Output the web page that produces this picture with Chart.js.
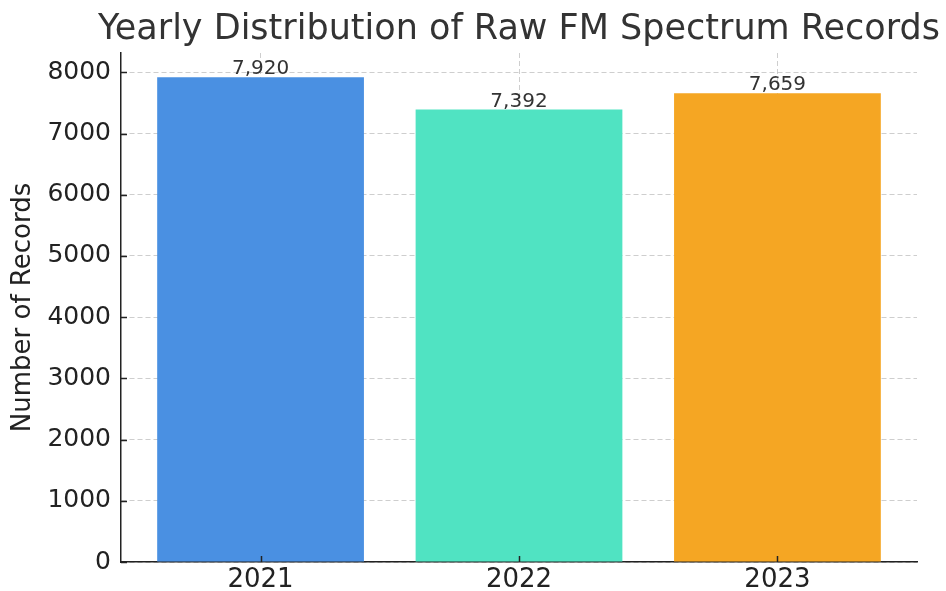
<!DOCTYPE html>
<html>
<head>
<meta charset="utf-8">
<script src="https://cdn.jsdelivr.net/npm/chart.js@4/dist/chart.umd.min.js"></script>
<style>
  html, body { margin: 0; padding: 0; background: #fff; }
  #wrap { width: 946px; height: 591px; }
</style>
</head>
<body>
<div id="wrap"><canvas id="recordsChart" width="946" height="591"></canvas></div>
<script>
const years = ["2021", "2022", "2023"];
const records = [7920, 7392, 7659];
const barColors = ["#4A90E2", "#50E3C2", "#F5A623"];
const yTicks = [0, 1000, 2000, 3000, 4000, 5000, 6000, 7000, 8000];
const chartTitle = "Yearly Distribution of Raw FM Spectrum Records";

const font = "'DejaVu Sans', sans-serif";
const gridColor = "rgba(180,180,180,0.65)";

// value labels above each bar
const barLabels = {
  id: "barLabels",
  afterDatasetsDraw(chart) {
    const ctx = chart.ctx;
    const meta = chart.getDatasetMeta(0);
    ctx.save();
    ctx.font = "20px " + font;
    ctx.fillStyle = "#333";
    ctx.textAlign = "center";
    ctx.textBaseline = "alphabetic";
    meta.data.forEach((bar, i) => {
      ctx.fillText(records[i].toLocaleString("en-US"), bar.x, bar.y - 3);
    });
    ctx.restore();
  }
};

// title centred over the plot area, allowed to run past it like the original
// plus the short inward tick marks on both axes
const plotExtras = {
  id: "plotExtras",
  afterDraw(chart) {
    const { ctx, chartArea, scales } = chart;
    ctx.save();
    ctx.font = "35px " + font;
    ctx.fillStyle = "#333";
    ctx.textAlign = "center";
    ctx.textBaseline = "middle";
    ctx.fillText(chartTitle, (chartArea.left + chartArea.right) / 2, 30);

    ctx.strokeStyle = "#222";
    ctx.lineWidth = 1.5;
    ctx.beginPath();
    yTicks.forEach((v) => {
      const y = Math.round(scales.y.getPixelForValue(v)) + 0.5;
      ctx.moveTo(chartArea.left, y);
      ctx.lineTo(chartArea.left + 6, y);
    });
    years.forEach((_, i) => {
      const x = Math.round(scales.x.getPixelForValue(i)) + 0.5;
      ctx.moveTo(x, chartArea.bottom);
      ctx.lineTo(x, chartArea.bottom - 6);
    });
    ctx.stroke();
    ctx.restore();
  }
};

new Chart(document.getElementById("recordsChart"), {
  type: "bar",
  data: {
    datasets: [{
      data: records.map((v, i) => ({ x: i, y: v })),
      backgroundColor: barColors,
      categoryPercentage: 1,
      barPercentage: 0.8
    }]
  },
  options: {
    responsive: false,
    animation: false,
    layout: { padding: { left: 0, right: 29, top: 53, bottom: 0 } },
    plugins: {
      legend: { display: false },
      tooltip: { enabled: false },
      title: { display: false }
    },
    scales: {
      x: {
        type: "linear",
        min: -0.54,
        max: 2.54,
        offset: false,
        z: 1,
        afterBuildTicks: (scale) => { scale.ticks = years.map((_, i) => ({ value: i })); },
        afterFit: (scale) => { scale.height = 29; },
        ticks: {
          callback: (v) => years[v],
          color: "#222",
          padding: 3,
          font: { family: font, size: 26 }
        },
        grid: { color: gridColor, drawTicks: false, offset: false },
        border: { display: true, color: "#222", width: 1.5, dash: [5, 3] }
      },
      y: {
        min: 0,
        max: 8316,
        z: 1,
        afterBuildTicks: (scale) => { scale.ticks = yTicks.map((v) => ({ value: v })); },
        afterFit: (scale) => { scale.width = 121; },
        title: {
          display: true,
          text: "Number of Records",
          color: "#222",
          font: { family: font, size: 26 },
          padding: { top: 8, bottom: 4 }
        },
        ticks: {
          callback: (v) => String(v),
          color: "#222",
          padding: 10,
          font: { family: font, size: 25 }
        },
        grid: { color: gridColor, drawTicks: false },
        border: { display: true, color: "#222", width: 1.5, dash: [5, 3] }
      }
    }
  },
  plugins: [barLabels, plotExtras]
});
</script>
</body>
</html>
